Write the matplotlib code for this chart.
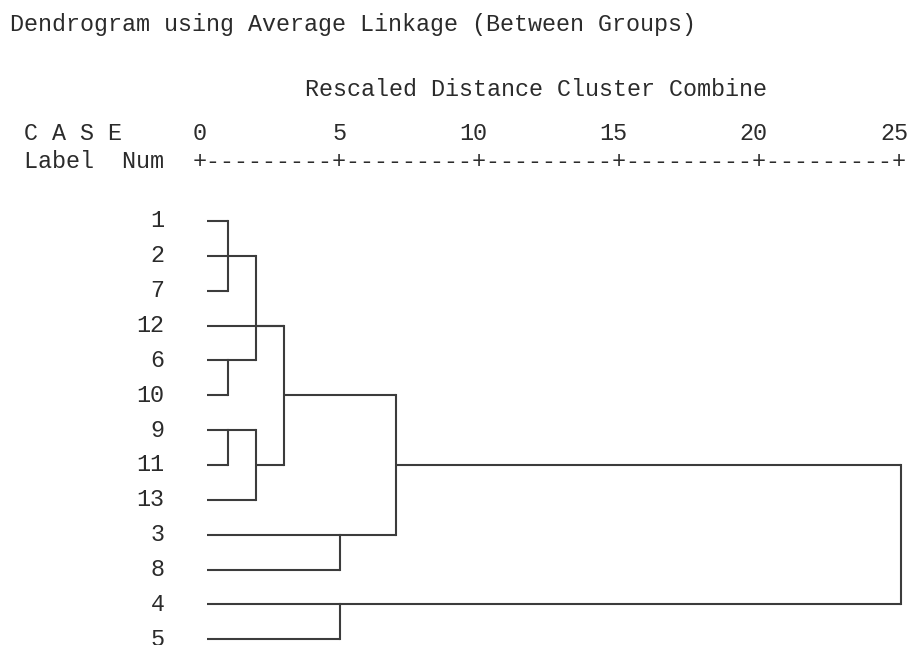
import matplotlib
matplotlib.use("Agg")
import matplotlib.pyplot as plt
from matplotlib.transforms import blended_transform_factory

# leaf order, top to bottom
case_nums = [1, 2, 7, 12, 6, 10, 9, 11, 13, 3, 8, 4, 5]
# rescaled distance where each leaf first joins a cluster
leaf_join = [1, 1, 1, 3, 1, 1, 1, 1, 2, 5, 5, 5, 5]

# merges: vertical from top row to bottom row at merge_dist,
# then the cluster goes on along merge_row up to merge_next
merge_dist = [1, 1, 1, 2, 2, 3, 5, 7, 5, 25]
merge_top = [0, 4, 6, 1, 6, 3, 9, 5, 11, 7]
merge_bot = [2, 5, 7, 4, 8, 7, 10, 9, 12, 11]
merge_row = [1, 4, 6, 3, 7, 5, 9, 7, 11, None]
merge_next = [2, 2, 2, 3, 3, 7, 7, 25, 25, None]

ticks = [0, 5, 10, 15, 20, 25]

W, H = 911, 645
fig = plt.figure(figsize=(W / 100, H / 100), dpi=100)

# axes placed so that 0..25 sits under the "+" marks
x0, x1 = 199.5, 901.0
row0, step = 221.0, 34.85
nrow = len(case_nums)
ytop = row0
ybot = row0 + step * (nrow - 1)
ax = fig.add_axes([x0 / W, 1 - ybot / H, (x1 - x0) / W, (ybot - ytop) / H])
ax.set_xlim(0, 25)
ax.set_ylim(nrow - 1, 0)
ax.axis("off")

mono = "Liberation Mono"
fs = 16.8
tcol = "#2b2b2b"
lcol = "#3c3c3c"
lw = 1.5

# tree lines
for i in range(nrow):
    ax.plot([0.25, leaf_join[i]], [i, i], color=lcol, lw=lw, clip_on=False,
            solid_capstyle="butt")
for d, t, b, r, n in zip(merge_dist, merge_top, merge_bot, merge_row, merge_next):
    ax.plot([d, d], [t, b], color=lcol, lw=lw, clip_on=False,
            solid_capstyle="projecting")
    if r is not None:
        ax.plot([d, n], [r, r], color=lcol, lw=lw, clip_on=False,
                solid_capstyle="butt")

# case numbers
for i, c in enumerate(case_nums):
    ax.text(-1.25, i, str(c), ha="right", va="center", family=mono,
            fontsize=fs, color=tcol, clip_on=False)

# header text, x in data units (one character = half a unit)
tr = blended_transform_factory(ax.transData, fig.transFigure)


def put(x, ypx, s, ha="left"):
    ax.text(x, 1 - ypx / H, s, transform=tr, ha=ha, va="center",
            family=mono, fontsize=fs, color=tcol, clip_on=False)


put(-6.75, 25, "Dendrogram using Average Linkage (Between Groups)")
put(3.75, 90, "Rescaled Distance Cluster Combine")
put(-6.25, 133, "C A S E")
put(-6.25, 162, "Label  Num")
for t in ticks:
    put(t + 0.25, 133, str(t), ha="right")
axis_str = "+" + ("-" * 9 + "+") * (len(ticks) - 1)
put(-0.25, 162, axis_str)

fig.savefig("out.png", dpi=100, facecolor="white")
